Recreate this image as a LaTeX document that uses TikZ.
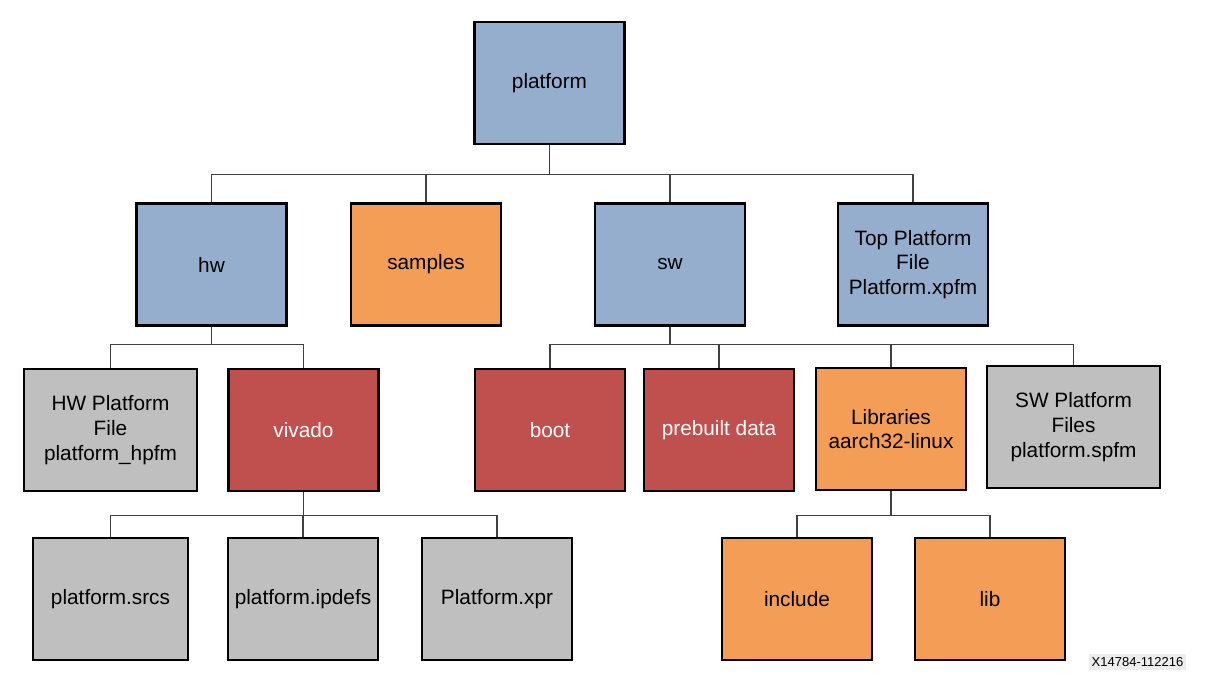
\documentclass[tikz,border=0pt]{standalone}
\usepackage{fontspec}
\setmainfont{Liberation Sans}
\usetikzlibrary{positioning}
\definecolor{hwblue}{HTML}{96AECE}
\definecolor{dirorange}{HTML}{F49D57}
\definecolor{dirred}{HTML}{C0504D}
\definecolor{filegray}{HTML}{BFBFBF}
\tikzset{box/.style = {draw, line width = 1.2pt, minimum width = 75pt, minimum height = 61pt,
                       inner sep = 2pt, align = center, font = \fontsize{10.4}{12.4}\selectfont}}
\tikzset{blue/.style = {box, fill = hwblue}}
\tikzset{orange/.style = {box, fill = dirorange}}
\tikzset{red/.style = {box, fill = dirred, text = white}}
\tikzset{gray/.style = {box, fill = filegray}}
\tikzset{link/.style = {draw = black!75, line width = 0.6pt}}

\begin{document}
\begin{tikzpicture}[x = 0.5pt, y = -0.5pt]
    \useasboundingbox (0, 0) rectangle (1222, 676);

    \node [blue] (platform) at (549.5, 83) {platform};

    \node [blue] (hw) at (211.5, 264.5) {hw};
    \node [orange] (samples) at (426, 264.5) {samples};
    \node [blue] (sw) at (670, 264.5) {sw};
    \node [blue] (top) at (913, 264.5) {Top Platform\\File\\Platform.xpfm};

    \node [gray, minimum width = 86.5pt] (hwfile) at (110.5, 430) {HW Platform\\File\\platform\_hpfm};
    \node [red] (vivado) at (303.5, 430) {vivado};
    \node [red] (boot) at (550, 430) {boot};
    \node [red] (prebuilt) at (719, 430) {prebuilt data};
    \node [orange] (libs) at (891, 429) {Libraries\\aarch32-linux};
    \node [gray, minimum width = 86.5pt] (swfile) at (1073.5, 427) {SW Platform\\Files\\platform.spfm};

    \node [gray, minimum width = 77.5pt] (srcs) at (110.5, 599) {platform.srcs};
    \node [gray] (ipdefs) at (303, 599) {platform.ipdefs};
    \node [gray] (xpr) at (497, 599) {Platform.xpr};
    \node [orange] (include) at (797, 599) {include};
    \node [orange] (lib) at (990, 599) {lib};

    \foreach \c in {hw, samples, sw, top}
        \draw [link] (platform.south) -- ++(0, 29) -| (\c.north);
    \foreach \c in {hwfile, vivado}
        \draw [link] (hw.south) -- ++(0, 18) -| (\c.north);
    \foreach \c in {boot, prebuilt, libs, swfile}
        \draw [link] (sw.south) -- ++(0, 18) -| (\c.north);
    \foreach \c in {srcs, ipdefs, xpr}
        \draw [link] (vivado.south) -- ++(0, 23) -| (\c.north);
    \foreach \c in {include, lib}
        \draw [link] (libs.south) -- ++(0, 24) -| (\c.north);

    \node [fill = black!7, inner sep = 1.5pt, font = \fontsize{6.5}{7.5}\selectfont] (code)
        at (1137.5, 662) {X14784-112216};
  \end{tikzpicture}
\end{document}
